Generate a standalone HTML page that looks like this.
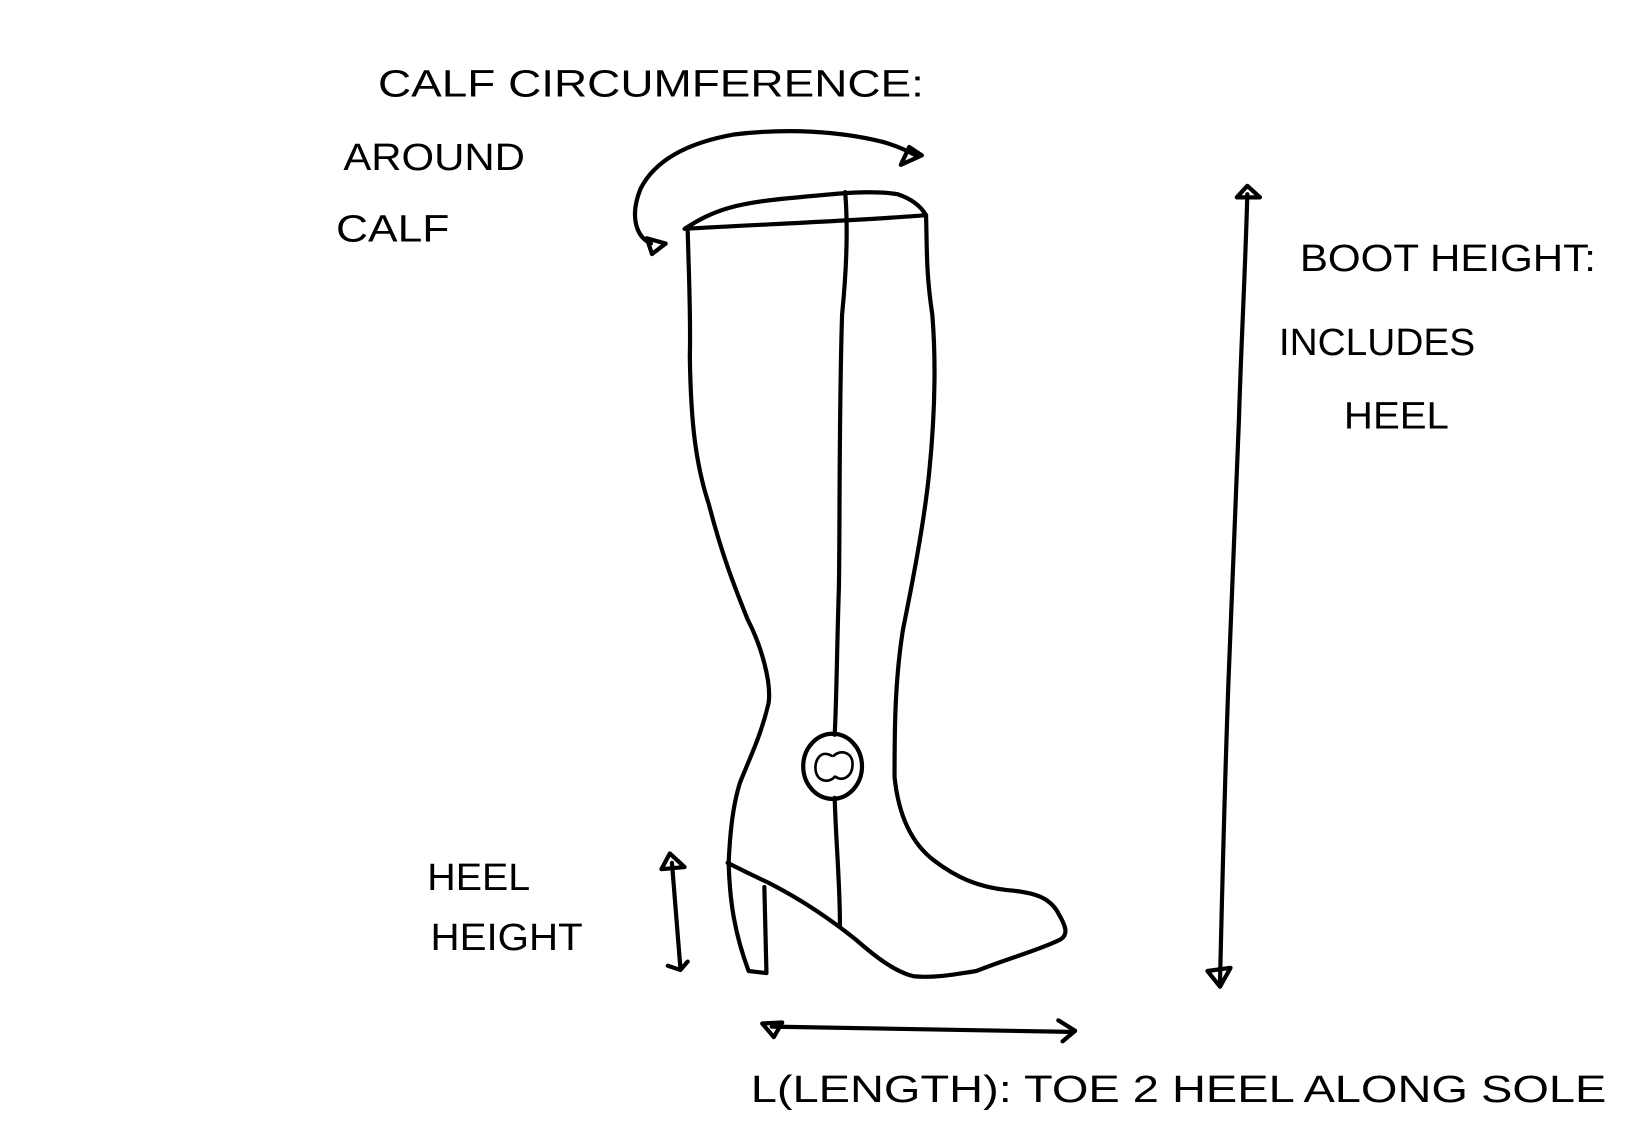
<!DOCTYPE html>
<html><head><meta charset="utf-8"><style>
html,body{margin:0;padding:0;background:#fff;width:1640px;height:1140px;overflow:hidden}
svg{display:block}
text{font-family:"Liberation Sans",sans-serif;font-size:36px;fill:#000}
</style></head><body>
<svg width="1640" height="1140" viewBox="0 0 1562 1086" preserveAspectRatio="none">
<g fill="none" stroke="#000" stroke-width="4" stroke-linecap="round" stroke-linejoin="round">
<path d="M652,218 C680,200 700,193 760,188 C800,184 830,181 855,185 C870,190 878,198 882,205 C820,210 720,214 652,218 Z"/>
<path d="M655,220 C656,260 658,300 657,340 C658,400 662,440 675,480 C688,530 700,560 712,590 C725,615 735,650 732,670 C725,700 715,720 705,745 C697,770 695,800 694,822 C695,860 700,890 713,925 L730,927 L728,845"/>
<path d="M882,205 C883,240 882,260 888,300 C892,350 890,400 885,450 C880,500 868,560 860,600 C852,650 852,700 852,740 C856,780 870,805 890,820 C910,835 930,845 960,848 C985,850 1000,855 1008,870 C1015,882 1018,890 1010,895 C990,905 960,913 930,925 C910,928 890,932 870,930 C850,925 830,908 815,895 C790,875 760,855 730,840 C715,833 705,828 693,822"/>
<path d="M805,183 C808,220 806,260 802,300 C799,400 800,500 799,560 C797,620 797,660 795,700"/>
<path d="M795,760 C796,800 800,840 800,882"/>
<ellipse cx="793" cy="730" rx="28" ry="31"/>
<path d="M792,720 C782,714 775,724 777,735 C779,745 790,746 795,740 M794,720 C800,714 812,716 812,728 C812,740 802,745 796,740" stroke-width="2.5"/>
<path d="M620,232 C605,225 600,205 610,180 C625,150 660,135 700,128 C750,122 800,125 840,135 C855,139 865,144 872,148"/>
<path d="M616,227 L634,232 L621,242 Z"/>
<path d="M858,157 L878,148 L866,140 Z"/>
<path d="M1188,185 C1186,260 1182,330 1180,400 C1176,500 1172,600 1170,650 C1166,760 1164,850 1162,935"/>
<path d="M1178,188 L1188,177 L1200,188 Z"/>
<path d="M1150,925 L1162,940 L1172,922 Z"/>
<path d="M640,822 L648,922"/>
<path d="M630,828 L638,813 L652,826 Z"/>
<path d="M636,920 L648,924 L655,916"/>
<path d="M735,978 L1020,983"/>
<path d="M726,975 L745,974 L737,988 Z"/>
<path d="M1008,972 L1024,982 L1012,992"/>
</g>
<text x="360" y="92" textLength="520" lengthAdjust="spacingAndGlyphs">CALF CIRCUMFERENCE:</text>
<text x="327" y="162" textLength="173" lengthAdjust="spacingAndGlyphs">AROUND</text>
<text x="320" y="230" textLength="108" lengthAdjust="spacingAndGlyphs">CALF</text>
<text x="1238" y="258" textLength="282" lengthAdjust="spacingAndGlyphs">BOOT HEIGHT:</text>
<text x="1218" y="338" textLength="187" lengthAdjust="spacingAndGlyphs">INCLUDES</text>
<text x="1280" y="408" textLength="100" lengthAdjust="spacingAndGlyphs">HEEL</text>
<text x="407" y="848" textLength="98" lengthAdjust="spacingAndGlyphs">HEEL</text>
<text x="410" y="905" textLength="145" lengthAdjust="spacingAndGlyphs">HEIGHT</text>
<text x="715" y="1050" textLength="815" lengthAdjust="spacingAndGlyphs">L(LENGTH): TOE 2 HEEL ALONG SOLE</text>
</svg>
</body></html>
